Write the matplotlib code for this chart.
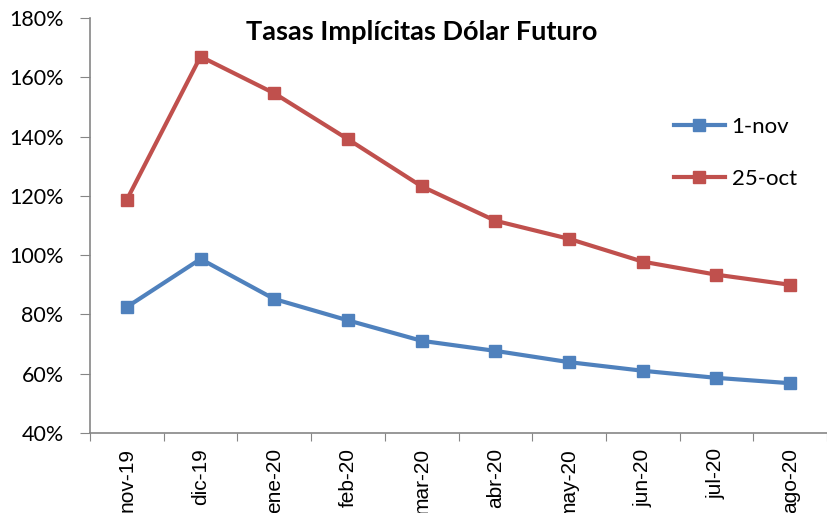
import matplotlib
matplotlib.use('Agg')
import matplotlib.pyplot as plt
from matplotlib.ticker import FuncFormatter

# categories and series (percent)
months = ['nov-19', 'dic-19', 'ene-20', 'feb-20', 'mar-20', 'abr-20', 'may-20', 'jun-20', 'jul-20', 'ago-20']
nov_1 = [82.5, 98.7, 85.2, 78.0, 71.1, 67.7, 63.9, 61.0, 58.6, 56.8]
oct_25 = [118.7, 167.0, 154.6, 139.1, 123.2, 111.6, 105.5, 97.8, 93.4, 90.0]

BLUE = '#4F81BD'
RED = '#C0504D'
GRAY = '#868686'

fig = plt.figure(figsize=(8.27, 5.13), dpi=100)
# axes placed to match the reference plot area
ax = fig.add_axes([90 / 827, 1 - 433 / 513, 1 - 90 / 827, (433 - 18) / 513])

x = list(range(len(months)))
ax.plot(x, nov_1, color=BLUE, lw=3, marker='s', ms=9, label='1-nov')
ax.plot(x, oct_25, color=RED, lw=3, marker='s', ms=9, label='25-oct')

ax.set_xlim(-0.5, len(months) - 0.5)
ax.set_ylim(40, 180)
ax.set_yticks(range(40, 181, 20))
ax.yaxis.set_major_formatter(FuncFormatter(lambda v, p: f'{v:.0f}%'))

# tick marks between categories, labels at category centers
ax.set_xticks([i - 0.5 for i in range(len(months) + 1)])
ax.set_xticklabels([])
ax.set_xticks(x, minor=True)
ax.set_xticklabels(months, minor=True, rotation=90, fontsize=15, family='Liberation Sans')
ax.tick_params(axis='x', which='major', length=6, color=GRAY, direction='out')
ax.tick_params(axis='x', which='minor', length=0, pad=11)
ax.tick_params(axis='y', length=7, color=GRAY, labelsize=15.5, pad=12)
for lab in ax.get_yticklabels():
    lab.set_family('Lato')

for s in ['top', 'right']:
    ax.spines[s].set_visible(False)
for s in ['left', 'bottom']:
    ax.spines[s].set_color(GRAY)
    ax.spines[s].set_linewidth(1.2)

fig.text(422 / 827, 1 - 32 / 513, 'Tasas Implícitas Dólar Futuro', ha='center', va='center',
         fontsize=19.5, fontweight='bold', family='Lato')

leg = ax.legend(loc='upper left', bbox_to_anchor=(0.765, 0.81), frameon=False,
                prop={'family': 'Lato', 'size': 16}, handlelength=2.3, labelspacing=1.45,
                handletextpad=0.3)

fig.savefig('out.png', dpi=100)
